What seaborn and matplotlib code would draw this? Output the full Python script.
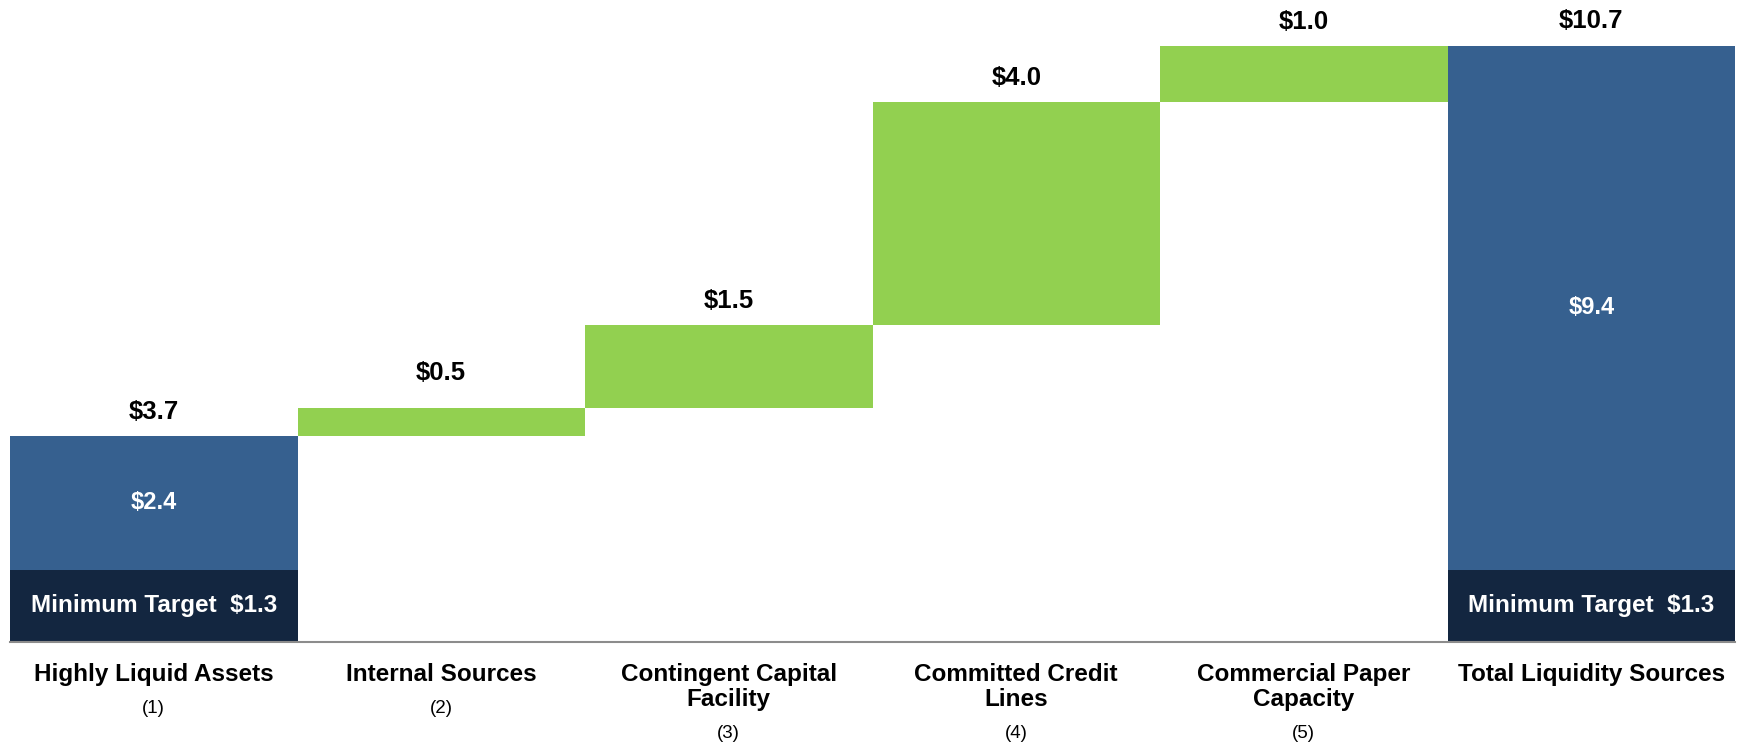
import numpy as np
import pandas as pd
import matplotlib
matplotlib.use('Agg')
import matplotlib.pyplot as plt
import seaborn as sns

# ============ DADOS ============
categories = ['Highly Liquid Assets', 'Internal Sources', 'Contingent Capital\nFacility',
              'Committed Credit\nLines', 'Commercial Paper\nCapacity', 'Total Liquidity Sources']
notes = ['(1)', '(2)', '(3)', '(4)', '(5)', '']
min_target = [1.3, 0, 0, 0, 0, 1.3]
liquid_assets = [2.4, 0, 0, 0, 0, 9.4]
increments = [0, 0.5, 1.5, 4.0, 1.0, 0]
top_labels = ['$3.7', '$0.5', '$1.5', '$4.0', '$1.0', '$10.7']
inner_labels = ['$2.4', '', '', '', '', '$9.4']

NAVY = '#132640'
BLUE = '#36608F'
GREEN = '#92D050'

sns.set_style('white')
plt.rcParams['font.family'] = ['Liberation Sans', 'DejaVu Sans']
plt.rcParams['text.color'] = 'black'

# base das barras flutuantes (waterfall)
start = min_target[0] + liquid_assets[0]
bottoms = [start + sum(increments[1:i]) for i in range(len(increments))]
tops = []
for i in range(len(categories)):
    if increments[i] > 0:
        tops.append(bottoms[i] + increments[i])
    else:
        tops.append(min_target[i] + liquid_assets[i])

df = pd.DataFrame({
    'cat': categories,
    'min_target': min_target,
    'assets': liquid_assets,
    'inc': increments,
    'bottom': bottoms,
})

fig = plt.figure(figsize=(17.5, 7.45), dpi=100)
ax = fig.add_axes([10 / 1750, 1 - 642 / 745, 1725 / 1750, (642 - 46) / 745])

sns.barplot(data=df, x='cat', y='min_target', color=NAVY, width=1.0, saturation=1,
            linewidth=0, ax=ax)
sns.barplot(data=df, x='cat', y='assets', color=BLUE, width=1.0, saturation=1,
            linewidth=0, bottom=df['min_target'].values, ax=ax)
sns.barplot(data=df, x='cat', y='inc', color=GREEN, width=1.0, saturation=1,
            linewidth=0, bottom=df['bottom'].values, ax=ax)

ax.set_xlim(-0.5, len(categories) - 0.5)
ax.set_ylim(0, max(tops))
ax.set_xlabel('')
ax.set_ylabel('')
ax.set_yticks([])

for s in ['top', 'left', 'right']:
    ax.spines[s].set_visible(False)
ax.spines['bottom'].set_color('#8c8c8c')
ax.spines['bottom'].set_linewidth(1.5)

# ticks nas divisões das categorias
ax.set_xticks(np.arange(-0.5, len(categories)), minor=True)
ax.tick_params(axis='x', which='minor', length=7, width=1.2, color='#8c8c8c', direction='out')
ax.set_xticks(range(len(categories)))
ax.set_xticklabels([])
ax.tick_params(axis='x', which='major', length=0)

# rótulos das categorias
for i, (name, note) in enumerate(zip(categories, notes)):
    nlines = name.count('\n') + 1
    ax.annotate(name, xy=(i, 0), xycoords=('data', 'axes fraction'),
                xytext=(0, -15), textcoords='offset points',
                ha='center', va='top', fontsize=17.5, fontweight='bold',
                linespacing=1.1, annotation_clip=False)
    if note:
        off = -41.5 if nlines == 1 else -60
        ax.annotate(note, xy=(i, 0), xycoords=('data', 'axes fraction'),
                    xytext=(0, off), textcoords='offset points',
                    ha='center', va='top', fontsize=13.5, annotation_clip=False)

# valores acima das barras
label_offsets = [17, 25, 17, 17, 17, 18]
for i, (lab, top) in enumerate(zip(top_labels, tops)):
    ax.annotate(lab, xy=(i, top), xytext=(0, label_offsets[i]), textcoords='offset points',
                ha='center', va='center', fontsize=18.5, fontweight='bold',
                annotation_clip=False)

# valores dentro das barras
for i, lab in enumerate(inner_labels):
    if lab:
        y = min_target[i] + liquid_assets[i] / 2
        ax.text(i, y, lab, ha='center', va='center', color='white',
                fontsize=17, fontweight='bold')
    if min_target[i] > 0:
        ax.text(i, min_target[i] / 2, f'Minimum Target  ${min_target[i]:.1f}',
                ha='center', va='center', color='white', fontsize=17.5, fontweight='bold')

fig.savefig('out.png', dpi=100)
plt.close(fig)
